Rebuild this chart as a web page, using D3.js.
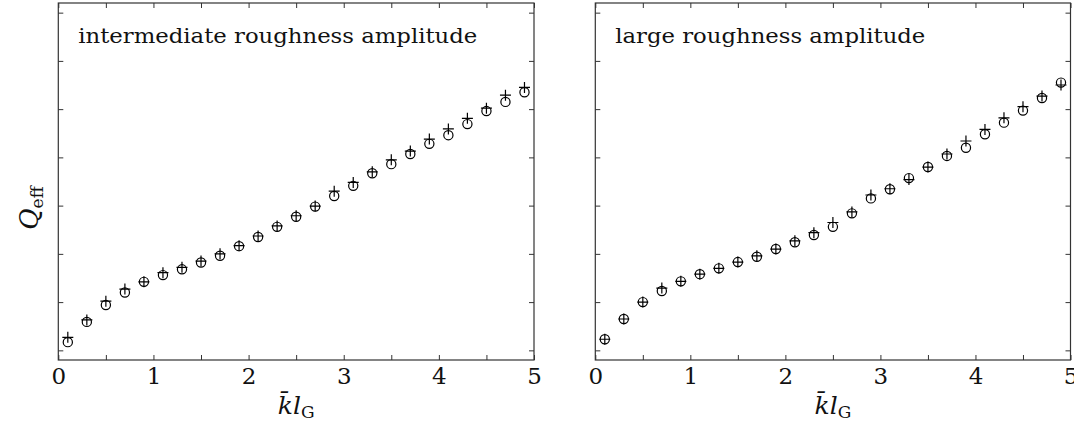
<!DOCTYPE html>
<html>
<head>
<meta charset="utf-8">
<script src="https://cdn.jsdelivr.net/npm/d3@7"></script>
<style>
  body { margin: 0; background: #fff; }
  svg { display: block; }
  .axis path, .axis line { stroke: #333; }
  .serif { font-family: "DejaVu Serif", "Liberation Serif", serif; }
  .tick text { font-family: "DejaVu Serif", "Liberation Serif", serif; font-size: 23px; fill: #111; }
</style>
</head>
<body>
<div id="viz"></div>
<script>
// x positions shared by both panels
const kl = [0.1, 0.3, 0.5, 0.7, 0.9, 1.1, 1.3, 1.5, 1.7, 1.9, 2.1, 2.3, 2.5,
            2.7, 2.9, 3.1, 3.3, 3.5, 3.7, 3.9, 4.1, 4.3, 4.5, 4.7, 4.9];

// intermediate roughness amplitude
const midCircle = [0.17, 0.59, 0.94, 1.20, 1.42, 1.56, 1.68, 1.82, 1.96, 2.16, 2.35, 2.56, 2.77,
                   2.98, 3.20, 3.41, 3.67, 3.86, 4.07, 4.28, 4.46, 4.69, 4.96, 5.15, 5.35];
const midPlus   = [0.27, 0.63, 1.02, 1.27, 1.42, 1.61, 1.72, 1.85, 2.00, 2.17, 2.37, 2.58, 2.79,
                   2.99, 3.30, 3.48, 3.70, 3.95, 4.13, 4.38, 4.59, 4.81, 5.02, 5.29, 5.45];

// large roughness amplitude
const largeCircle = [0.23, 0.65, 1.00, 1.23, 1.43, 1.58, 1.70, 1.83, 1.94, 2.10, 2.24, 2.39, 2.56,
                     2.84, 3.15, 3.34, 3.57, 3.80, 4.03, 4.20, 4.48, 4.72, 4.97, 5.23, 5.55];
const largePlus   = [0.23, 0.65, 1.00, 1.29, 1.43, 1.58, 1.70, 1.83, 1.96, 2.10, 2.27, 2.44, 2.65,
                     2.87, 3.22, 3.35, 3.54, 3.80, 4.07, 4.34, 4.58, 4.82, 5.05, 5.27, 5.50];

const xTicks = [0, 0.5, 1, 1.5, 2, 2.5, 3, 3.5, 4, 4.5, 5];
const yTicks = [0, 1, 2, 3, 4, 5, 6, 7];

const panels = [
  { title: 'intermediate roughness amplitude', titleWidth: 399, circle: midCircle, plus: midPlus, left: 58.3, right: 534 },
  { title: 'large roughness amplitude', titleWidth: 310, circle: largeCircle, plus: largePlus, left: 595.3, right: 1070.5 },
];

const width = 1074;
const height = 425;
const plotTop = 3, plotBottom = 360;

const svg = d3.select('#viz')
  .append('svg')
  .attr('width', width)
  .attr('height', height);

const y = d3.scaleLinear().domain([-0.2, 7.2]).range([plotBottom, plotTop]);

panels.forEach(p => {
  const x = d3.scaleLinear().domain([0, 5]).range([p.left, p.right]);
  const g = svg.append('g');

  // frame
  g.append('rect')
    .attr('x', p.left).attr('y', plotTop)
    .attr('width', p.right - p.left).attr('height', plotBottom - plotTop)
    .attr('fill', 'none').attr('stroke', '#333').attr('stroke-width', 1.2);

  const fmt = d => Number.isInteger(d) ? d : '';

  g.append('g').attr('class', 'axis')
    .attr('transform', `translate(0,${plotBottom})`)
    .call(d3.axisBottom(x).tickValues(xTicks).tickSize(-5).tickSizeOuter(0).tickPadding(8).tickFormat(fmt));
  g.append('g').attr('class', 'axis')
    .attr('transform', `translate(0,${plotTop})`)
    .call(d3.axisTop(x).tickValues(xTicks).tickSize(-5).tickSizeOuter(0).tickFormat(''));
  g.append('g').attr('class', 'axis')
    .attr('transform', `translate(${p.left},0)`)
    .call(d3.axisLeft(y).tickValues(yTicks).tickSize(-5).tickSizeOuter(0).tickFormat(''));
  g.append('g').attr('class', 'axis')
    .attr('transform', `translate(${p.right},0)`)
    .call(d3.axisRight(y).tickValues(yTicks).tickSize(-5).tickSizeOuter(0).tickFormat(''));
  g.selectAll('.axis path').remove();

  // circles
  g.selectAll('circle.pt')
    .data(kl.map((k, i) => [k, p.circle[i]]))
    .join('circle')
    .attr('class', 'pt')
    .attr('cx', d => x(d[0]))
    .attr('cy', d => y(d[1]))
    .attr('r', 4.6)
    .attr('fill', 'none')
    .attr('stroke', '#000')
    .attr('stroke-width', 1.2);

  // plus markers
  g.selectAll('path.plus')
    .data(kl.map((k, i) => [k, p.plus[i]]))
    .join('path')
    .attr('class', 'plus')
    .attr('d', d => {
      const cx = x(d[0]), cy = y(d[1]), s = 5.5;
      return `M${cx - s},${cy}H${cx + s}M${cx},${cy - s}V${cy + s}`;
    })
    .attr('stroke', '#000')
    .attr('stroke-width', 1.2);

  // panel label
  g.append('text')
    .attr('class', 'serif')
    .attr('x', p.left + 20)
    .attr('y', 43)
    .attr('font-size', 20)
    .attr('textLength', p.titleWidth)
    .attr('lengthAdjust', 'spacingAndGlyphs')
    .attr('fill', '#111')
    .text(p.title);

  // x axis label
  const xl = g.append('text')
    .attr('class', 'serif')
    .attr('x', (p.left + p.right) / 2)
    .attr('y', 414)
    .attr('text-anchor', 'middle')
    .attr('font-size', 25)
    .attr('fill', '#111');
  xl.append('tspan').attr('font-style', 'italic').text('k\u0304l');
  xl.append('tspan').attr('font-size', 17).attr('dy', 4).text('G');
});

// y axis label
const yl = svg.append('text')
  .attr('class', 'serif')
  .attr('transform', 'translate(38,208) rotate(-90)')
  .attr('text-anchor', 'middle')
  .attr('font-size', 26)
  .attr('fill', '#111');
yl.append('tspan').attr('font-style', 'italic').text('Q');
yl.append('tspan').attr('font-size', 17).attr('dy', 5).text('eff');
</script>
</body>
</html>
